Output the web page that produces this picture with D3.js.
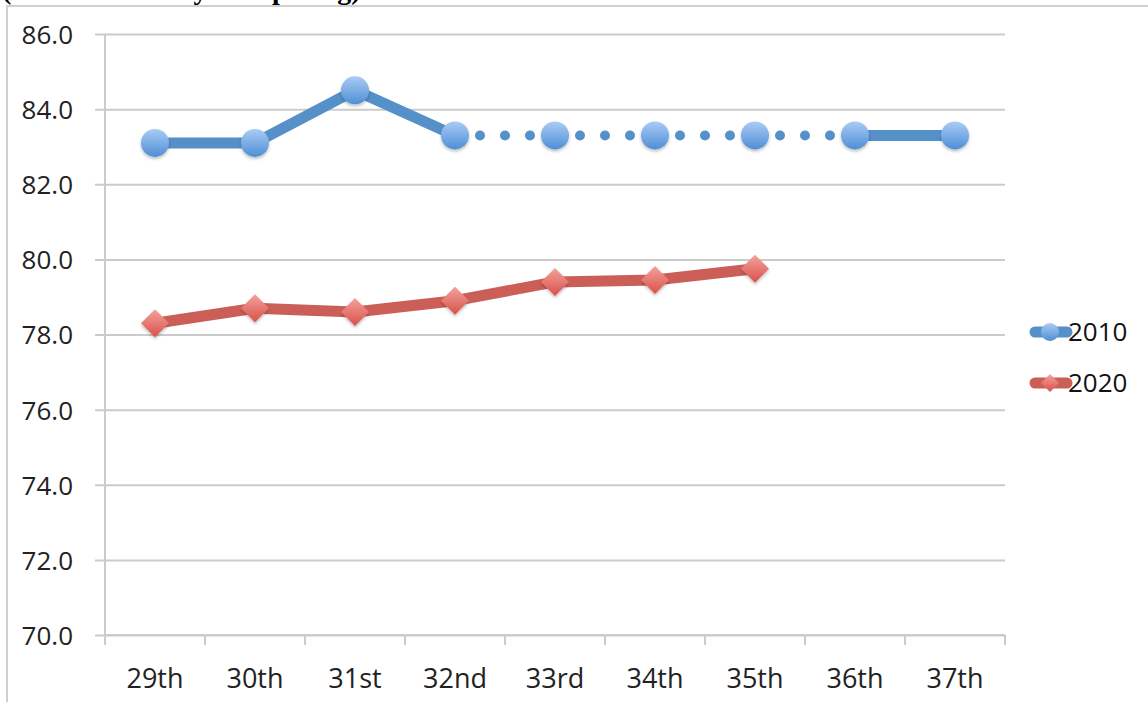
<!DOCTYPE html>
<html>
<head>
<meta charset="utf-8">
<script src="https://cdn.jsdelivr.net/npm/d3@7"></script>
<style>
  html, body { margin: 0; padding: 0; background: #fff; }
  svg { display: block; }
</style>
</head>
<body>
<svg id="chart" width="1148" height="702"></svg>
<script>
// Category labels along the x axis
const categories = ["29th", "30th", "31st", "32nd", "33rd", "34th", "35th", "36th", "37th"];
// Series values (null = no value)
const values2010 = [83.1, 83.1, 84.5, 83.3, 83.3, 83.3, 83.3, 83.3, 83.3];
const values2020 = [78.3, 78.7, 78.6, 78.9, 79.4, 79.45, 79.75, null, null];
// Segments of the 2010 series drawn dotted (index of segment start)
const dotted2010 = [3, 4, 5, 6];
const seriesNames = ["2010", "2020"];
const yTicks = [70, 72, 74, 76, 78, 80, 82, 84, 86];

const svg = d3.select("#chart");
const W = 1148, H = 702;
const plot = { left: 105, right: 1005, top: 34, bottom: 635 };

const defs = svg.append("defs");
const blueGrad = defs.append("linearGradient").attr("id", "blueGrad")
  .attr("x1", 0).attr("y1", 0).attr("x2", 0).attr("y2", 1);
blueGrad.append("stop").attr("offset", "0%").attr("stop-color", "#a9ccf4");
blueGrad.append("stop").attr("offset", "100%").attr("stop-color", "#4f8ed6");
const redGrad = defs.append("linearGradient").attr("id", "redGrad")
  .attr("x1", 0).attr("y1", 0).attr("x2", 0).attr("y2", 1);
redGrad.append("stop").attr("offset", "0%").attr("stop-color", "#f4a29c");
redGrad.append("stop").attr("offset", "100%").attr("stop-color", "#d9514b");
const shadow = defs.append("filter").attr("id", "shadow")
  .attr("x", "-50%").attr("y", "-50%").attr("width", "200%").attr("height", "200%");
shadow.append("feDropShadow").attr("dx", 0).attr("dy", 2).attr("stdDeviation", 1.5)
  .attr("flood-color", "#000").attr("flood-opacity", 0.25);

// Heading, mostly above the visible area
svg.append("text")
  .attr("x", 2).attr("y", -1)
  .attr("font-family", "Liberation Serif, Times New Roman, serif")
  .attr("font-weight", "bold")
  .attr("font-size", 28)
  .attr("fill", "#000")
  .text("(Ordinal rank by Comparing)");

// Chart area frame
svg.append("path")
  .attr("d", `M7,${H} L7,6 L${W},6`)
  .attr("fill", "none").attr("stroke", "#cfcfcf").attr("stroke-width", 2);

const x = d3.scaleBand().domain(categories).range([plot.left, plot.right]);
const y = d3.scaleLinear().domain([70, 86]).range([plot.bottom, plot.top]);
const cx = d => x(d) + x.bandwidth() / 2;

// Horizontal gridlines with y axis labels
const yAxis = d3.axisLeft(y).tickValues(yTicks).tickFormat(d3.format(".1f"))
  .tickSize(-(plot.right - plot.left) - 10).tickPadding(24);
const gy = svg.append("g").attr("transform", `translate(${plot.left - 10},0)`).call(yAxis);
gy.select(".domain").remove();
gy.selectAll(".tick line").attr("stroke", "#cbcbcb").attr("stroke-width", 2)
  .attr("x1", 0).attr("x2", plot.right - plot.left + 10);
gy.selectAll(".tick text")
  .attr("font-family", "Open Sans, sans-serif").attr("font-size", 26).attr("fill", "#222")
  .attr("x", -22).attr("dy", "0.36em").attr("text-anchor", "end");

// Vertical axis line
svg.append("line")
  .attr("x1", plot.left).attr("x2", plot.left)
  .attr("y1", plot.top).attr("y2", plot.bottom + 10)
  .attr("stroke", "#cbcbcb").attr("stroke-width", 2);

// Category axis
const xAxis = d3.axisBottom(x).tickSize(0).tickPadding(34);
const gx = svg.append("g").attr("transform", `translate(0,${plot.bottom})`).call(xAxis);
gx.select(".domain").remove();
gx.selectAll(".tick text")
  .attr("font-family", "Open Sans, sans-serif").attr("font-size", 27).attr("fill", "#222");
const bounds = categories.map(c => x(c)).concat([plot.right]);
svg.append("g").selectAll("line").data(bounds).join("line")
  .attr("x1", d => d).attr("x2", d => d)
  .attr("y1", plot.bottom).attr("y2", plot.bottom + 10)
  .attr("stroke", "#cbcbcb").attr("stroke-width", 2);
svg.append("line")
  .attr("x1", plot.left).attr("x2", plot.right)
  .attr("y1", plot.bottom).attr("y2", plot.bottom)
  .attr("stroke", "#cbcbcb").attr("stroke-width", 2);

const blueLine = "#5590c8";
const redLine = "#cb5f58";

// 2010 series: solid and dotted segments
for (let i = 0; i < categories.length - 1; i++) {
  const a = values2010[i], b = values2010[i + 1];
  if (a == null || b == null) continue;
  const seg = svg.append("line")
    .attr("x1", cx(categories[i])).attr("y1", y(a))
    .attr("x2", cx(categories[i + 1])).attr("y2", y(b))
    .attr("stroke", blueLine).attr("stroke-linecap", "round");
  if (dotted2010.includes(i)) {
    seg.attr("stroke-width", 10).attr("stroke-dasharray", "0 25");
  } else {
    seg.attr("stroke-width", 11);
  }
}

// 2020 series line
const pts2020 = categories.map((c, i) => ({ c, v: values2020[i] })).filter(d => d.v != null);
svg.append("path")
  .datum(pts2020)
  .attr("d", d3.line().x(d => cx(d.c)).y(d => y(d.v)))
  .attr("fill", "none").attr("stroke", redLine).attr("stroke-width", 11)
  .attr("stroke-linejoin", "round").attr("stroke-linecap", "round");

// Markers
const diamond = (s) => `M0,${-s} L${s},0 L0,${s} L${-s},0 Z`;
svg.append("g").selectAll("circle")
  .data(categories.map((c, i) => ({ c, v: values2010[i] })).filter(d => d.v != null))
  .join("circle")
  .attr("cx", d => cx(d.c)).attr("cy", d => y(d.v)).attr("r", 14)
  .attr("fill", "url(#blueGrad)").attr("filter", "url(#shadow)");
svg.append("g").selectAll("path")
  .data(pts2020)
  .join("path")
  .attr("transform", d => `translate(${cx(d.c)},${y(d.v)})`)
  .attr("d", diamond(14))
  .attr("fill", "url(#redGrad)").attr("filter", "url(#shadow)");

// Legend
const legend = svg.append("g");
const legendRows = [
  { name: seriesNames[0], y: 332, color: blueLine, marker: "circle" },
  { name: seriesNames[1], y: 383, color: redLine, marker: "diamond" }
];
legendRows.forEach(r => {
  legend.append("line")
    .attr("x1", 1035).attr("x2", 1067).attr("y1", r.y).attr("y2", r.y)
    .attr("stroke", r.color).attr("stroke-width", 11).attr("stroke-linecap", "round");
  if (r.marker === "circle") {
    legend.append("circle").attr("cx", 1050).attr("cy", r.y).attr("r", 9)
      .attr("fill", "url(#blueGrad)");
  } else {
    legend.append("path").attr("transform", `translate(1050,${r.y})`)
      .attr("d", diamond(9)).attr("fill", "url(#redGrad)");
  }
  legend.append("text")
    .attr("x", 1068).attr("y", r.y).attr("dy", "0.36em")
    .attr("font-family", "Open Sans, sans-serif").attr("font-size", 26).attr("fill", "#111")
    .text(r.name);
});
</script>
</body>
</html>
